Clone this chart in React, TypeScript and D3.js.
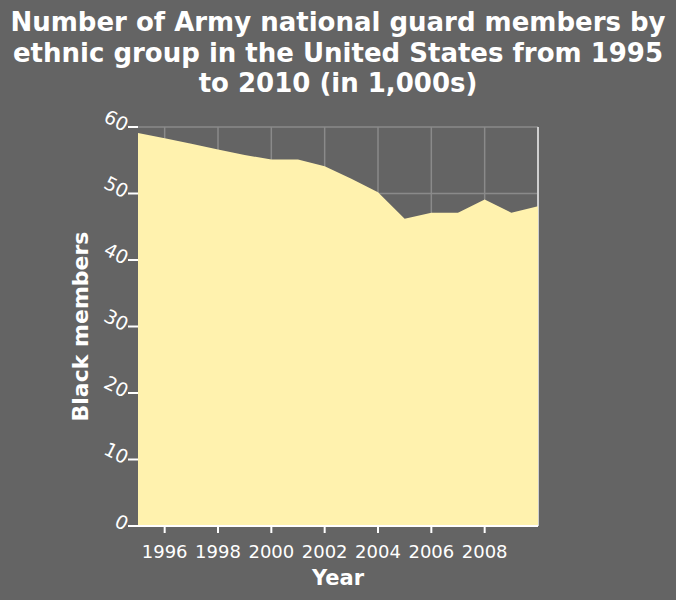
import React from "react";
import { scaleLinear, area, range } from "d3";

const years = range(1995, 2011);
const blackMembers = [
  59.1, 58.3, 57.5, 56.6, 55.8, 55.1, 55.1, 54.1, 52.2, 50.2, 46.2, 47.1, 47.1,
  49.1, 47.1, 48.1,
];
const xTicks = [1996, 1998, 2000, 2002, 2004, 2006, 2008];
const yTicks = [0, 10, 20, 30, 40, 50, 60];
const titleLines = [
  "Number of Army national guard members by",
  "ethnic group in the United States from 1995",
  "to 2010 (in 1,000s)",
];

const width = 676;
const height = 600;
const margin = { top: 127, right: 138, bottom: 74, left: 138 };
const bg = "#646464";
const fill = "#fff2ae";
const grid = "#8a8a8a";
const font = "DejaVu Sans, sans-serif";

export default function App() {
  const x = scaleLinear()
    .domain([1995, 2010])
    .range([margin.left, width - margin.right]);
  const y = scaleLinear()
    .domain([0, 60])
    .range([height - margin.bottom, margin.top]);

  const areaGen = area<number>()
    .x((_, i) => x(years[i]))
    .y0(y(0))
    .y1((d) => y(d));

  return (
    <svg
      width={width}
      height={height}
      style={{ display: "block", position: "absolute", left: 0, top: 0 }}
      fontFamily={font}
    >
      <rect width={width} height={height} fill={bg} />
      {titleLines.map((t, i) => (
        <text
          key={t}
          x={width / 2}
          y={31 + i * 30.5}
          textAnchor="middle"
          fill="#fff"
          fontWeight="bold"
          fontSize={26}
        >
          {t}
        </text>
      ))}
      {/* grid */}
      {xTicks.map((t) => (
        <line
          key={"gx" + t}
          x1={x(t)}
          x2={x(t)}
          y1={y(0)}
          y2={y(60)}
          stroke={grid}
          strokeWidth={1.5}
        />
      ))}
      {yTicks.map((t) => (
        <line
          key={"gy" + t}
          x1={x(1995)}
          x2={x(2010)}
          y1={y(t)}
          y2={y(t)}
          stroke={grid}
          strokeWidth={1.5}
        />
      ))}
      <line
        x1={x(2010)}
        x2={x(2010)}
        y1={y(0)}
        y2={y(60)}
        stroke="#cfcfcf"
        strokeWidth={2}
      />
      <path d={areaGen(blackMembers) ?? ""} fill={fill} />
      {/* x axis */}
      <line
        x1={x(1995) - 1}
        x2={x(2010)}
        y1={y(0)}
        y2={y(0)}
        stroke="#fff"
        strokeWidth={2}
      />
      {xTicks.map((t) => (
        <g key={"xt" + t} transform={`translate(${x(t)},${y(0)})`}>
          <line y1={0} y2={7} stroke="#fff" strokeWidth={2} />
          <text y={32} textAnchor="middle" fill="#fff" fontSize={18}>
            {t}
          </text>
        </g>
      ))}
      {/* y axis */}
      {yTicks.map((t) => (
        <g key={"yt" + t} transform={`translate(${x(1995)},${y(t)})`}>
          <line x1={-10} x2={0} stroke="#fff" strokeWidth={2} />
          <text
            transform="translate(-14,5) rotate(27)"
            textAnchor="end"
            fill="#fff"
            fontSize={19}
          >
            {t}
          </text>
        </g>
      ))}
      <text
        x={(x(1995) + x(2010)) / 2}
        y={585}
        textAnchor="middle"
        fill="#fff"
        fontWeight="bold"
        fontSize={21}
      >
        Year
      </text>
      <text
        transform={`translate(88,${(y(0) + y(60)) / 2}) rotate(-90)`}
        textAnchor="middle"
        fill="#fff"
        fontWeight="bold"
        fontSize={22}
      >
        Black members
      </text>
    </svg>
  );
}
